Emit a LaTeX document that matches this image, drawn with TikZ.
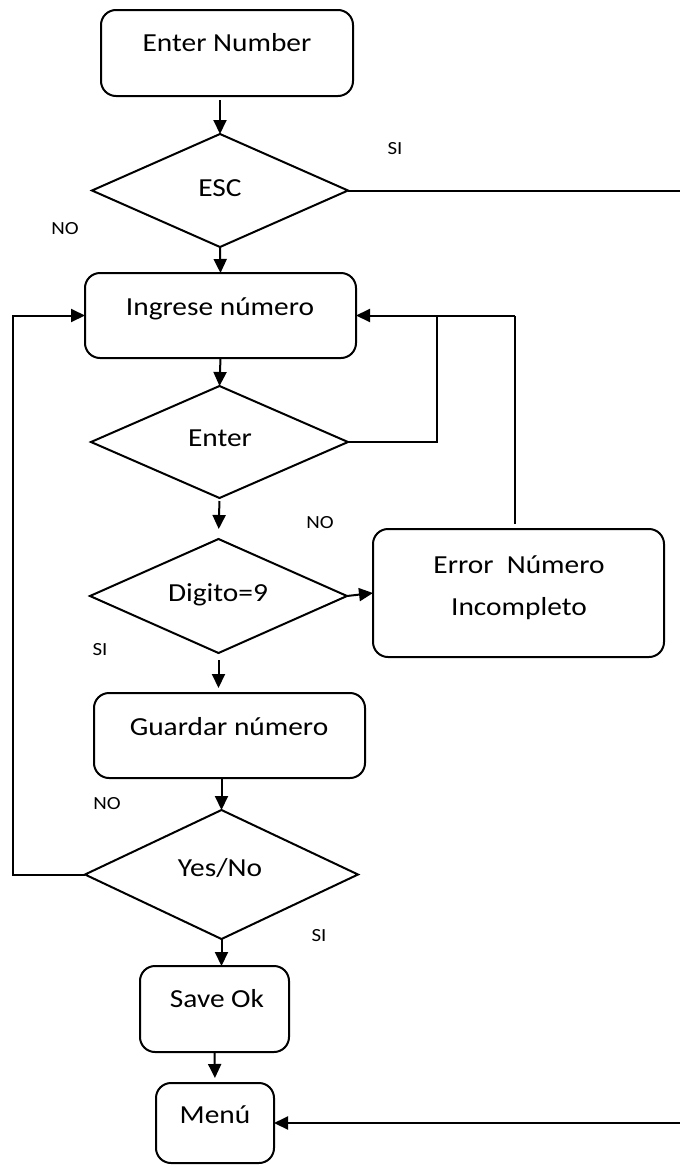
\documentclass[tikz,border=0pt]{standalone}
\usepackage{fontspec}
\setmainfont{Carlito}[FakeStretch=1.13]
\usetikzlibrary{shapes.geometric,arrows.meta}
\tikzset{
  box/.style={draw, line width=2pt, rounded corners=15pt, inner sep=0pt, outer sep=0pt},
  dia/.style={draw, diamond, line width=2pt, inner sep=0pt, outer sep=0pt},
  txt/.style={anchor=base, inner sep=0pt, font=\fontsize{26}{31}\selectfont},
  lbl/.style={anchor=base, inner sep=0pt, font=\fontsize{18.5}{22}\selectfont},
  conn/.style={line width=2pt},
  arr/.style={line width=2pt, -{Triangle[length=14pt,width=13pt]}}
}
\begin{document}
\begin{tikzpicture}[x=1pt,y=-1pt]
\useasboundingbox (0,0) rectangle (680,1165);
% boxes
\node[box, minimum width=252pt, minimum height=86pt] (n1) at (227,53) {};
\node[txt] (n1t) at (227,51) {Enter Number};
\node[dia, minimum width=256pt, minimum height=113pt] (esc) at (220,190.5) {};
\node[txt] (esct) at (220,196) {ESC};
\node[box, minimum width=271pt, minimum height=85pt] (ing) at (220.5,315.5) {};
\node[txt] (ingt) at (220,315) {Ingrese número};
\node[dia, minimum width=257pt, minimum height=112pt] (ent) at (219.5,442) {};
\node[txt] (entt) at (220,446) {Enter};
\node[dia, minimum width=257pt, minimum height=114pt] (dig) at (218.5,596) {};
\node[txt] (digt) at (218,601) {Digito=9};
\node[box, minimum width=291pt, minimum height=128pt] (err) at (518.5,593) {};
\node[txt] (errt1) at (519,573) {Error\ \ Número};
\node[txt] (errt2) at (519,615) {Incompleto};
\node[box, minimum width=271pt, minimum height=85pt] (gua) at (229.5,735.5) {};
\node[txt] (guat) at (229,735) {Guardar número};
\node[dia, minimum width=273pt, minimum height=129pt] (yn) at (221.5,874.5) {};
\node[txt] (ynt) at (220,876) {Yes/No};
\node[box, minimum width=149pt, minimum height=86pt] (sav) at (214.5,1009) {};
\node[txt] (savt) at (217,1007) {Save Ok};
\node[box, minimum width=118pt, minimum height=80pt] (men) at (215,1123) {};
\node[txt] (ment) at (215,1123) {Menú};
% labels
\node[lbl] (l1) at (395,154) {SI};
\node[lbl] (l2) at (65,234) {NO};
\node[lbl] (l3) at (320,528) {NO};
\node[lbl] (l4) at (100,655) {SI};
\node[lbl] (l5) at (107,809) {NO};
\node[lbl] (l6) at (319,941) {SI};
% coordinates
\coordinate (escR) at (680,190.5);
\coordinate (menR) at (680,1123);
\coordinate (c1) at (437,442);
\coordinate (c2) at (437,315.5);
\coordinate (c3) at (515,315.5);
\coordinate (c4) at (13,874.5);
\coordinate (c5) at (13,315.5);
% connectors
\draw[arr] (n1.south -| esc.north) ++(0,4) -- (esc.north);
\draw[arr] (esc.south) -- (ing.north);
\draw[conn] (esc.east) -- (escR);
\draw[arr] (ing.south) -- (ent.north);
\draw[conn] (ent.east) -- (c1) -- (c2);
\draw[arr] (c3) -- (ing.east);
\draw[conn, shorten <=5pt] (err.north -| c3) -- (c3);
\draw[arr, shorten <=3pt, shorten >=10pt] (ent.south) -- (dig.north);
\draw[arr] (dig.east) -- (err.west);
\draw[arr, shorten <=7pt, shorten >=5pt] (dig.south) -- (gua.north -| dig.south);
\draw[arr] (gua.south -| yn.north) -- (yn.north);
\draw[arr] (yn.west) -- (c4) -- (c5) -- (ing.west);
\draw[arr] (yn.south) -- (sav.north -| yn.south);
\draw[arr, shorten >=5pt] (sav.south) -- (men.north);
\draw[arr] (menR) -- (men.east);
\end{tikzpicture}
\end{document}
